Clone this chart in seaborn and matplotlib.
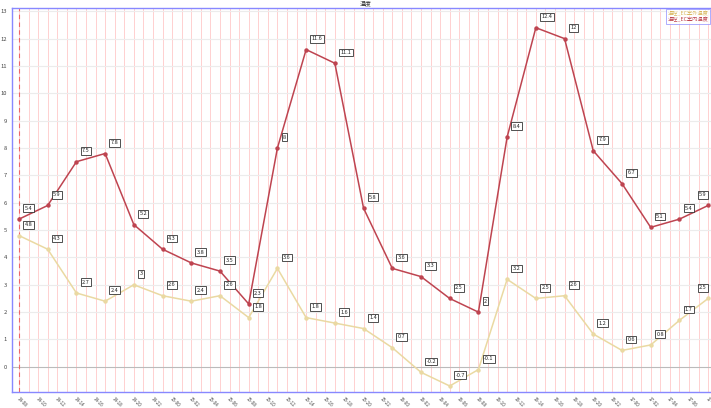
import numpy as np
import pandas as pd
import matplotlib
matplotlib.use("Agg")
import matplotlib.pyplot as plt
import seaborn as sns
from matplotlib.lines import Line2D

title = "温度"
series_names = ["温控_EC室外温度", "温控_EC室内温度"]
# sample times (hours since 14-08), every 3 hours
hours = [0, 3, 6, 9, 12, 15, 18, 21, 24, 27, 30, 33, 36, 39, 42, 45, 48, 51, 54, 57, 60, 63, 66, 69, 72]
red_vals = [5.4, 5.9, 7.5, 7.8, 5.2, 4.3, 3.8, 3.5, 2.3, 8, 11.6, 11.1, 5.8, 3.6, 3.3, 2.5, 2, 8.4, 12.4, 12, 7.9, 6.7, 5.1, 5.4, 5.9]
yellow_vals = [4.8, 4.3, 2.7, 2.4, 3, 2.6, 2.4, 2.6, 1.8, 3.6, 1.8, 1.6, 1.4, 0.7, -0.2, -0.7, -0.1, 3.2, 2.5, 2.6, 1.2, 0.6, 0.8, 1.7, 2.5]
tick_hours = list(range(0, 73, 2))
tick_labels = [f"{14 + (8 + h) // 24}-{(8 + h) % 24:02d}" for h in tick_hours]
y_ticks = list(range(0, 14))

colors = {series_names[0]: "#ead9a2", series_names[1]: "#be4450"}

df = pd.concat([
    pd.DataFrame({"h": hours, "v": yellow_vals, "s": series_names[0]}),
    pd.DataFrame({"h": hours, "v": red_vals, "s": series_names[1]}),
])

sns.set_theme(style="white")
plt.rcParams['font.family'] = ['Noto Sans CJK SC', 'DejaVu Sans']

fig = plt.figure(figsize=(7.11, 4.08), dpi=100)
ax = fig.add_axes([12 / 711, 1 - 392 / 408, 1 - 12 / 711, (392 - 8) / 408])

# grid
for h in range(0, 74):
    ax.axvline(h, color="#ffd0d0", lw=0.7, zorder=0)
for y in y_ticks:
    ax.axhline(y, color="#bbbbbb" if y == 0 else "#ececec", lw=0.8, zorder=0)
ax.axvline(0, color="#ee6666", lw=0.8, ls=(0, (4, 3)), zorder=1)

sns.lineplot(data=df, x="h", y="v", hue="s", palette=colors, marker="o",
             markersize=3.2, markeredgewidth=0, linewidth=1.1, ax=ax, legend=False,
             hue_order=series_names)

for name, vals in [(series_names[0], yellow_vals), (series_names[1], red_vals)]:
    for i, (h, v) in enumerate(zip(hours, vals)):
        last = i == len(hours) - 1
        ax.annotate(f"{v:g}", (h, v), xytext=(-1 if last else 4, 6), textcoords="offset points",
                    fontsize=4.0, color="#222222", ha="right" if last else "left", va="bottom",
                    bbox=dict(boxstyle="square,pad=0.25", fc="white", ec="#333333", lw=0.6))

ax.set_xlim(-0.73, 72.3)
ax.set_ylim(-0.92, 13.12)
ax.set_xticks(tick_hours)
ax.set_xticklabels(tick_labels, rotation=-45, ha="left", rotation_mode="anchor", fontsize=3.3, color="#444444")
ax.set_yticks(y_ticks)
ax.set_yticklabels([str(y) for y in y_ticks], fontsize=4.2, color="#444444")
ax.tick_params(axis="both", length=2, width=0.5, pad=1.5, colors="#888888", labelcolor="#444444")
ax.tick_params(axis="x", pad=1.0)
ax.set_xlabel("")
ax.set_ylabel("")
for side in ["left", "top", "bottom"]:
    ax.spines[side].set_color("#8888ff")
    ax.spines[side].set_linewidth(1)
ax.spines["right"].set_visible(False)

fig.text(366 / 711, 1 - 3.5 / 408, title, fontsize=4.2, ha="center", va="center", color="#333333")

# legend box
handles = [Line2D([], [], color=colors[n], lw=0) for n in series_names]
leg = ax.legend(handles, series_names, loc="upper right", fontsize=3.8, frameon=True,
                handlelength=0, handletextpad=0, borderpad=0.3, labelspacing=0.2,
                bbox_to_anchor=(1.0, 1.0), borderaxespad=0.2, fancybox=False)
leg.get_frame().set_edgecolor("#8888ff")
leg.get_frame().set_linewidth(0.6)
for t, n in zip(leg.get_texts(), series_names):
    t.set_color(colors[n] if n == series_names[1] else "#d9b860")

fig.savefig("out.png", dpi=100)
